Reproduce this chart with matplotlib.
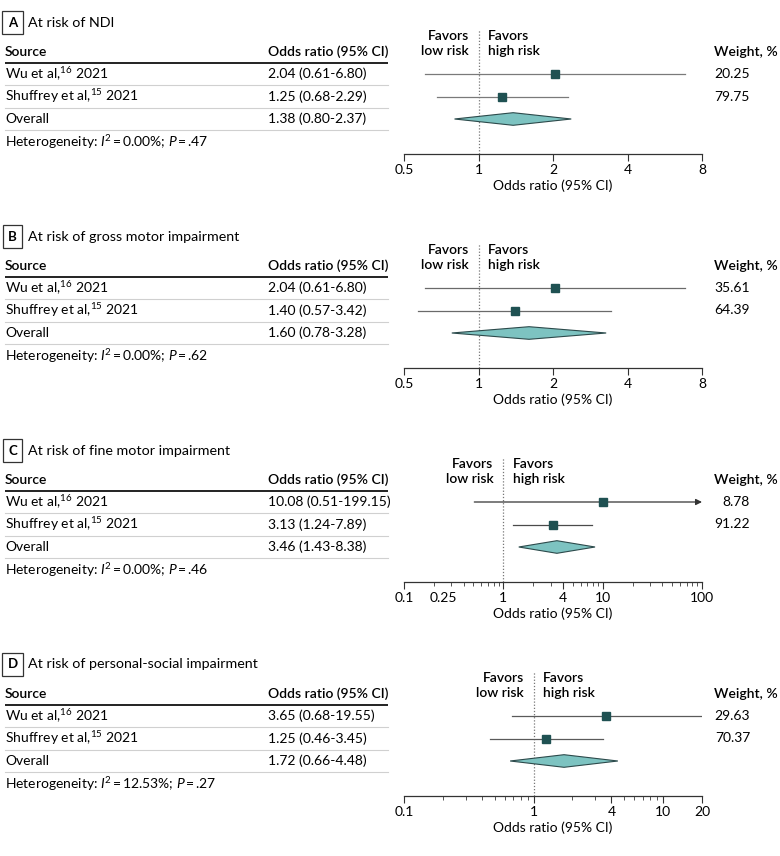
import matplotlib
matplotlib.use("Agg")
import matplotlib.pyplot as plt
import numpy as np
from matplotlib.ticker import FixedLocator, FixedFormatter, NullFormatter

plt.rcParams['font.family'] = ['Lato', 'DejaVu Sans']
plt.rcParams['mathtext.fontset'] = 'custom'
plt.rcParams['mathtext.rm'] = 'Lato'
plt.rcParams['mathtext.it'] = 'Lato:italic'
plt.rcParams['mathtext.bf'] = 'Lato:bold'

# ---- data ----
letters = ['A', 'B', 'C', 'D']
titles = ['At risk of NDI', 'At risk of gross motor impairment',
          'At risk of fine motor impairment', 'At risk of personal-social impairment']
sources = ['Wu et al,$^{16}$ 2021', 'Shuffrey et al,$^{15}$ 2021']

or_est = [[2.04, 1.25], [2.04, 1.40], [10.08, 3.13], [3.65, 1.25]]
or_lo = [[0.61, 0.68], [0.61, 0.57], [0.51, 1.24], [0.68, 0.46]]
or_hi = [[6.80, 2.29], [6.80, 3.42], [199.15, 7.89], [19.55, 3.45]]
pooled_est = [1.38, 1.60, 3.46, 1.72]
pooled_lo = [0.80, 0.78, 1.43, 0.66]
pooled_hi = [2.37, 3.28, 8.38, 4.48]
weights = [['20.25', '79.75'], ['35.61', '64.39'], ['8.78', '91.22'], ['29.63', '70.37']]
i2 = ['0.00', '0.00', '0.00', '12.53']
pvals = ['.47', '.62', '.46', '.27']

xlims = [(0.5, 8), (0.5, 8), (0.1, 100), (0.1, 20)]
xticks = [[0.5, 1, 2, 4, 8], [0.5, 1, 2, 4, 8],
          [0.1, 0.25, 1, 4, 10, 100], [0.1, 1, 4, 10, 20]]
xticklabels = [['0.5', '1', '2', '4', '8'], ['0.5', '1', '2', '4', '8'],
               ['0.1', '0.25', '1', '4', '10', '100'], ['0.1', '1', '4', '10', '20']]

# ---- layout (pixels) ----
W, H = 780, 856
offsets = [0, 214, 428, 642]
row0, step = 74, 22.5
ax_left, ax_right = 404, 702
ax_top, ax_bot = 29, 154

sq_color = '#1f5152'
dia_fill = '#7dc3c1'
dia_edge = '#2c4a4b'
ci_color = ['#7a7a7a', '#6a6a6a', '#4a4a4a', '#5a5a5a']
fs = 10
ts = '\u2009'  # thin space

fig = plt.figure(figsize=(W / 100, H / 100), dpi=100)
bg = fig.add_axes([0, 0, 1, 1])
bg.set_xlim(0, W)
bg.set_ylim(H, 0)
bg.axis('off')

for p in range(4):
    off = offsets[p]
    # title
    bg.text(12.5, 22.5 + off, letters[p], ha='center', va='center', fontsize=9.5,
            fontweight='bold', bbox=dict(boxstyle='square,pad=0.42', fc='white', ec='#333333', lw=0.9))
    bg.text(28, 22.5 + off, titles[p], ha='left', va='center', fontsize=10.3)

    # table header
    bg.text(5, 52 + off, 'Source', ha='left', va='center', fontsize=fs, fontweight='semibold')
    bg.text(268, 52 + off, 'Odds ratio (95% CI)', ha='left', va='center', fontsize=fs, fontweight='semibold')
    bg.plot([5, 388], [63 + off, 63 + off], color='#222222', lw=1.4, solid_capstyle='butt')
    bg.text(714, 52 + off, 'Weight, %', ha='left', va='center', fontsize=fs, fontweight='semibold')

    labels = sources + ['Overall']
    vals = list(zip(or_est[p], or_lo[p], or_hi[p])) + [(pooled_est[p], pooled_lo[p], pooled_hi[p])]
    for i, (lab, (e, lo, hi)) in enumerate(zip(labels, vals)):
        y = row0 + i * step + off
        bg.text(5, y, lab, ha='left', va='center', fontsize=fs)
        bg.text(268, y, f'{e:.2f} ({lo:.2f}-{hi:.2f})', ha='left', va='center', fontsize=fs)
        bg.plot([5, 388], [y + step / 2, y + step / 2], color='#d0d0d0', lw=0.8)
        if i < 2:
            bg.text(750, y, weights[p][i], ha='right', va='center', fontsize=fs)
    bg.text(5, 142 + off, f'Heterogeneity: $I^2${ts}={ts}{i2[p]}%; $P${ts}={ts}{pvals[p]}',
            ha='left', va='center', fontsize=fs)

    # forest plot
    ax = fig.add_axes([ax_left / W, 1 - (ax_bot + off) / H,
                       (ax_right - ax_left) / W, (ax_bot - ax_top) / H])
    ax.set_xscale('log')
    lo_x, hi_x = xlims[p]
    ax.set_xlim(lo_x, hi_x)
    ax.set_ylim((ax_bot - row0) / step, (ax_top - row0) / step)
    ax.patch.set_alpha(0)
    for s in ['top', 'left', 'right']:
        ax.spines[s].set_visible(False)
    ax.spines['bottom'].set_color('#333333')
    ax.spines['bottom'].set_linewidth(0.9)
    ax.set_yticks([])

    ax.xaxis.set_major_locator(FixedLocator(xticks[p]))
    ax.xaxis.set_major_formatter(FixedFormatter(xticklabels[p]))
    if p >= 2:
        minors = [m * d for d in [0.1, 1, 10] for m in range(2, 10) if lo_x <= m * d <= hi_x]
        ax.xaxis.set_minor_locator(FixedLocator(minors))
    else:
        ax.xaxis.set_minor_locator(FixedLocator([]))
    ax.xaxis.set_minor_formatter(NullFormatter())
    ax.tick_params(axis='x', which='major', length=5, width=0.8, color='#333333',
                   labelsize=fs, pad=2)
    ax.tick_params(axis='x', which='minor', length=3, width=0.7, color='#555555')
    for t, v in zip(ax.xaxis.get_major_ticks(), xticks[p]):
        if v in (0.25,):
            t.tick1line.set_visible(False)
    ax.set_xlabel('Odds ratio (95% CI)', fontsize=fs, labelpad=3)

    ax.axvline(1, color='#777777', lw=0.9, ls=(0, (1, 1.5)), zorder=1)

    for i in range(2):
        e, lo, hi = or_est[p][i], or_lo[p][i], or_hi[p][i]
        if hi > hi_x:
            ax.annotate('', xy=(hi_x, i), xytext=(lo, i),
                        arrowprops=dict(arrowstyle='-|>', color='#333333', lw=0.9,
                                        mutation_scale=9, shrinkA=0, shrinkB=0),
                        annotation_clip=False)
        else:
            ax.plot([lo, hi], [i, i], color=ci_color[p], lw=0.9, zorder=2)
        ax.plot([e], [i], marker='s', ms=5.5, color=sq_color, zorder=3)

    dh = 0.28
    ax.fill([pooled_lo[p], pooled_est[p], pooled_hi[p], pooled_est[p]],
            [2, 2 - dh, 2, 2 + dh], facecolor=dia_fill, edgecolor=dia_edge, lw=0.8, zorder=3)

    fav_y = (43.5 - row0) / step
    ax.annotate('Favors\nlow risk', xy=(1, fav_y), xytext=(-7, 0), textcoords='offset points',
                ha='right', va='center', fontsize=fs, fontweight='semibold', linespacing=1.3)
    ax.annotate('Favors\nhigh risk', xy=(1, fav_y), xytext=(7, 0), textcoords='offset points',
                ha='left', va='center', fontsize=fs, fontweight='semibold', linespacing=1.3)

fig.savefig('out.png', dpi=100)
